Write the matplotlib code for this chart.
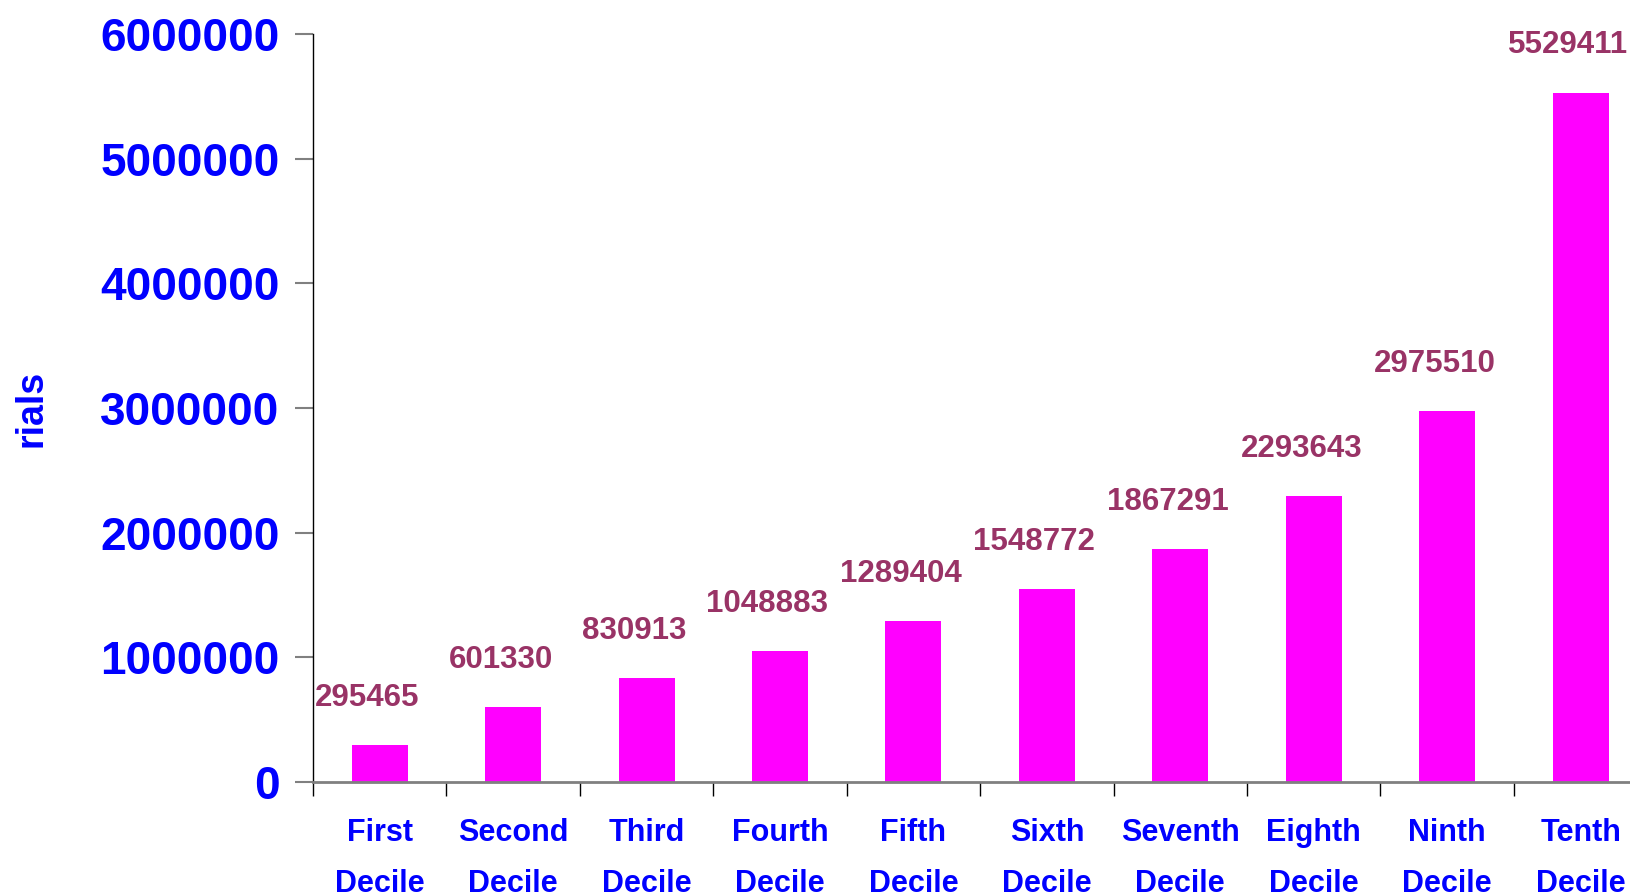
import matplotlib
matplotlib.use("Agg")
import matplotlib.pyplot as plt
import numpy as np

# data
categories = ["First\nDecile", "Second\nDecile", "Third\nDecile", "Fourth\nDecile", "Fifth\nDecile",
              "Sixth\nDecile", "Seventh\nDecile", "Eighth\nDecile", "Ninth\nDecile", "Tenth\nDecile"]
values = [295465, 601330, 830913, 1048883, 1289404, 1548772, 1867291, 2293643, 2975510, 5529411]
yticks = [0, 1000000, 2000000, 3000000, 4000000, 5000000, 6000000]

plt.rcParams['font.family'] = ['Liberation Sans', 'DejaVu Sans']
plt.rcParams['font.weight'] = 'bold'

fig = plt.figure(figsize=(16.3, 8.96), dpi=100)
ax = fig.add_axes([0.192, 0.1272, 0.808, 0.835])

x = np.arange(len(values))
ax.bar(x, values, width=0.42, color='#FF00FF', zorder=2)

for xi, v in zip(x, values):
    ax.annotate(str(v), (xi, v), xytext=(-9, 34), textcoords='offset points',
                ha='center', va='center', fontsize=22.5, fontweight='bold', color='#993366')

# y axis
ax.set_yticks(yticks)
ax.set_yticklabels([str(t) for t in yticks])
ax.tick_params(axis='y', direction='out', length=13, width=1.5, color='#808080',
               labelsize=33, labelcolor='#0000FF', pad=11)
for lbl in ax.get_yticklabels():
    lbl.set_fontweight('bold')
ax.set_ylabel('rials', fontsize=27, fontweight='bold', color='#0000FF')
ax.yaxis.set_label_coords(-0.2, 0.5)

# x axis: labels at centres, tick marks at boundaries
ax.set_xticks(x)
ax.set_xticklabels(categories, linespacing=1.9)
ax.set_xticks(np.arange(-0.5, 10, 1), minor=True)
ax.tick_params(axis='x', which='major', length=0, labelsize=22, labelcolor='#0000FF', pad=26)
ax.tick_params(axis='x', which='minor', direction='out', length=10, width=1, color='black')
for lbl in ax.get_xticklabels():
    lbl.set_fontweight('bold')

# limits last, since set_xticks can widen them
ax.set_xlim(-0.5, 9.37)
ax.set_ylim(0, 6000000)

ax.spines['top'].set_visible(False)
ax.spines['right'].set_visible(False)
ax.spines['left'].set_color('black')
ax.spines['left'].set_linewidth(1)
ax.spines['bottom'].set_color('#808080')
ax.spines['bottom'].set_linewidth(2)

fig.savefig('out.png', dpi=100)
